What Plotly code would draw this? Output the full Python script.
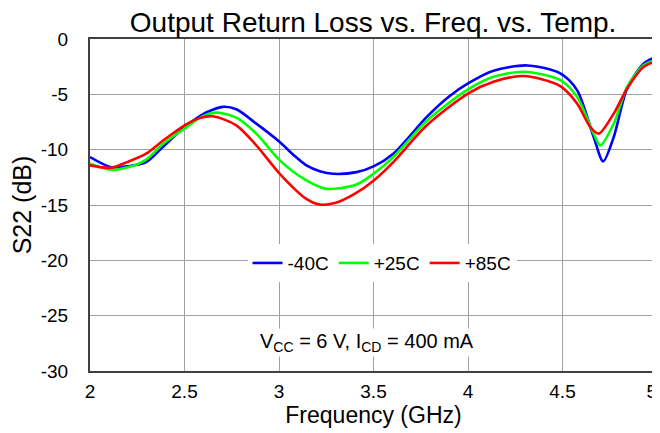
import plotly.graph_objects as go

# Frequency (GHz) / S22 (dB)
freq_m40 = [2.0, 2.111, 2.2, 2.297, 2.385, 2.5, 2.562, 2.62, 2.703, 2.774, 2.88, 3.004, 3.075,
            3.145, 3.216, 3.287, 3.41, 3.5, 3.605, 3.782, 3.9, 4.0, 4.135, 4.312, 4.488, 4.577,
            4.665, 4.715, 4.771, 4.842, 4.93, 5.0]
s22_m40 = [-10.67, -11.58, -11.5, -11.12, -9.76, -7.95, -7.19, -6.6, -6.13, -6.35, -7.65, -9.31,
           -10.45, -11.42, -11.95, -12.18, -12.03, -11.51, -10.36, -7.04, -5.2, -4.02, -2.87,
           -2.39, -3.11, -4.62, -8.86, -11.06, -8.86, -4.47, -2.2, -1.6]

freq_p25 = [2.0, 2.111, 2.2, 2.297, 2.385, 2.5, 2.6, 2.672, 2.774, 2.88, 3.004, 3.145, 3.251,
            3.41, 3.5, 3.605, 3.782, 4.0, 4.135, 4.295, 4.488, 4.577, 4.665, 4.7, 4.771, 4.842,
            4.93, 5.0]
s22_p25 = [-11.27, -11.82, -11.6, -10.9, -9.5, -8.1, -6.95, -6.65, -7.1, -8.55, -10.97, -12.78,
           -13.54, -13.15, -12.18, -10.67, -7.4, -4.56, -3.42, -2.96, -3.72, -5.23, -8.56, -9.61,
           -7.65, -4.32, -2.36, -1.84]

freq_p85 = [2.0, 2.111, 2.2, 2.297, 2.385, 2.5, 2.58, 2.65, 2.774, 2.88, 3.004, 3.145, 3.216,
            3.3, 3.4, 3.5, 3.605, 3.782, 4.0, 4.135, 4.295, 4.488, 4.577, 4.647, 4.692,
            4.771, 4.842, 4.93, 5.0]
s22_p85 = [-11.42, -11.64, -11.1, -10.36, -9.2, -7.8, -7.15, -6.98, -7.8, -9.61, -12.18, -14.45,
           -14.96, -14.8, -14.0, -12.8, -11.12, -7.8, -4.93, -3.87, -3.35, -4.26, -5.83, -7.95,
           -8.55, -6.74, -4.47, -2.5, -1.97]

# tick labels (plain hyphen minus, like the reference)
y_ticks = [0, -5, -10, -15, -20, -25, -30]
y_ticktext = ["0", "-5", "-10", "-15", "-20", "-25", "-30"]
x_ticks = [2, 2.5, 3, 3.5, 4, 4.5, 5]
x_ticktext = ["2", "2.5", "3", "3.5", "4", "4.5", "5\u00a0\u00a0"]  # nbsp nudges the last label inside

series = [
    ("-40C", freq_m40, s22_m40, "#0000ff"),
    ("+25C", freq_p25, s22_p25, "#00ff00"),
    ("+85C", freq_p85, s22_p85, "#ff0000"),
]

fig = go.Figure()
for name, f, s, color in series:
    fig.add_trace(go.Scatter(
        x=f, y=s, mode="lines", name=name,
        line=dict(color=color, width=2.6, shape="spline", smoothing=0.8)
    ))

fig.add_annotation(
    x=3.465, y=-27.45, xref="x", yref="y", showarrow=False,
    text="V<sub>CC</sub> = 6 V, I<sub>CD</sub> = 400 mA",
    font=dict(size=20, color="black"), bgcolor="white"
)

# page body adds an 8px margin, so the figure is 8px smaller than the window
fig.update_layout(
    width=652, height=425,
    title=dict(text="Output Return Loss vs. Freq. vs. Temp.", x=0.56, xanchor="center",
               y=0.967, yanchor="middle", font=dict(size=28, color="black")),
    font=dict(family="Liberation Sans, Arial, sans-serif", color="black"),
    paper_bgcolor="white", plot_bgcolor="white",
    margin=dict(l=82, r=3, t=31, b=62, autoexpand=False),
    showlegend=True,
    legend=dict(orientation="h", x=0.515, xanchor="center", y=0.325, yanchor="middle",
                bgcolor="white", font=dict(size=19), itemwidth=30,
                tracegroupgap=0, entrywidth=0),
)

fig.update_xaxes(
    range=[2, 5], tickvals=x_ticks, ticktext=x_ticktext, automargin=False,
    showgrid=True, gridcolor="#a0a0a0", gridwidth=1.3,
    showline=True, linecolor="#404040", linewidth=2, mirror=True, zeroline=False,
    tickfont=dict(size=19), ticks="", ticklabelstandoff=2, ticklabeloverflow="allow",
    title=dict(text="Frequency (GHz)", font=dict(size=23), standoff=2)
)
fig.update_yaxes(
    range=[-30, 0], tickvals=y_ticks, ticktext=y_ticktext, automargin=False,
    showgrid=True, gridcolor="#a0a0a0", gridwidth=1.3,
    showline=True, linecolor="#404040", linewidth=2, mirror=True, zeroline=False,
    tickfont=dict(size=19), ticks="", ticklabelstandoff=16, ticklabeloverflow="allow",
    title=dict(text="S22 (dB)", font=dict(size=25), standoff=14)
)

fig.write_html("out.html")
